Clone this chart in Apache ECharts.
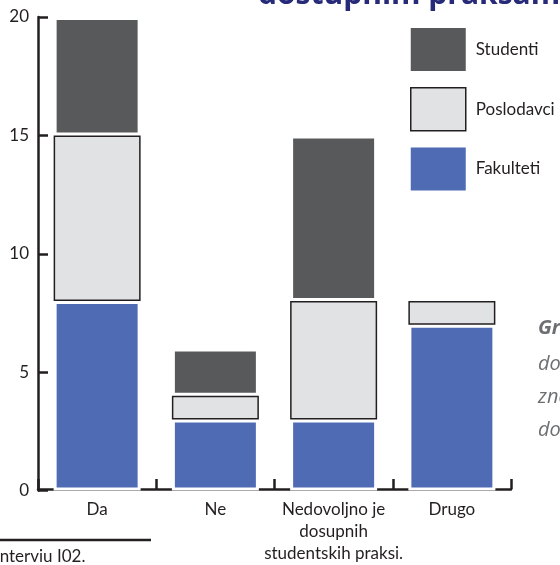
<!DOCTYPE html>
<html>
<head>
<meta charset="UTF-8">
<title>Prakse</title>
<script type="text/javascript" src="https://cdn.jsdelivr.net/npm/echarts@6/dist/echarts.min.js"></script>
<style>
html,body{margin:0;padding:0;background:#fff;}
</style>
</head>
<body>

<div id="box" style="width:560px;height:565px;"></div>

<script type="text/javascript">

// kategorije na x osi
var categories = ['Da', 'Ne', 'Nedovoljno je\ndosupnih\nstudentskih praksi.', 'Drugo'];
// vrijednosti po grupama ispitanika
var fakulteti = [8, 3, 3, 7];
var poslodavci = [7, 1, 5, 1];
var studenti = [5, 2, 7, 0];
// podjela y osi
var yTicks = [0, 5, 10, 15, 20];

var ink = '#231f20';
var font = 'Lato';

var mychart = echarts.init(document.getElementById('box'));

var option = {
  animation: false,
  textStyle: { fontFamily: font },
  //naslov (odsjecen na vrhu)
  title: {
    text: 'dostupnim praksama',
    left: 253,
    top: -25,
    textStyle: { fontSize: 30, fontWeight: 'bold', color: '#262a78', fontFamily: 'Open Sans' }
  },
  grid: { left: 38, right: 49, top: 17, bottom: 73 },
  legend: {
    orient: 'vertical',
    left: 410,
    top: 28,
    padding: 0,
    itemWidth: 55,
    itemHeight: 43,
    itemGap: 16,
    icon: 'rect',
    textStyle: { fontSize: 17, color: ink, padding: [0, 0, 0, 5] },
    data: [
      { name: 'Studenti', itemStyle: { borderWidth: 0 } },
      { name: 'Poslodavci', itemStyle: { borderColor: ink, borderWidth: 1.5 } },
      { name: 'Fakulteti', itemStyle: { borderWidth: 0 } }
    ]
  },
  xAxis: {
    type: 'category',
    data: categories,
    offset: -1.5,
    axisLine: { onZero: false, lineStyle: { color: ink, width: 2.5 } },
    axisTick: { show: true, inside: true, length: 10, interval: 0, alignWithLabel: false, lineStyle: { color: ink, width: 2.5 } },
    axisLabel: { color: ink, fontSize: 17, margin: 10, lineHeight: 22, interval: 0 }
  },
  yAxis: {
    type: 'value',
    min: yTicks[0],
    max: yTicks[yTicks.length - 1],
    interval: yTicks[1] - yTicks[0],
    splitLine: { show: false },
    axisLine: { show: true, lineStyle: { color: ink, width: 2.5 } },
    axisTick: { show: true, inside: true, length: 10, lineStyle: { color: ink, width: 2.5 } },
    axisLabel: { color: ink, fontSize: 17, margin: 9 }
  },
  series: [{
    name: 'Fakulteti',
    type: 'bar',
    stack: 'ukupno',
    barWidth: 87,
    itemStyle: { color: '#4f6bb4', borderColor: '#ffffff', borderWidth: 3 },
    data: fakulteti
  }, {
    name: 'Poslodavci',
    type: 'bar',
    stack: 'ukupno',
    barWidth: 87,
    z: 3,
    itemStyle: { color: '#e1e2e4', borderColor: ink, borderWidth: 1.5 },
    data: poslodavci
  }, {
    name: 'Studenti',
    type: 'bar',
    stack: 'ukupno',
    barWidth: 87,
    itemStyle: { color: '#58595b', borderColor: '#ffffff', borderWidth: 3 },
    data: studenti
  }],
  //okolni tekst stranice
  graphic: [
    { type: 'text', left: 538, top: 318, style: { text: 'Grafikon', font: 'italic bold 20px "Open Sans"', fill: '#6d6e71' } },
    { type: 'text', left: 538, top: 354, style: { text: 'do kojeg', font: 'italic 20px "Open Sans"', fill: '#6d6e71' } },
    { type: 'text', left: 538, top: 387, style: { text: 'znanja', font: 'italic 20px "Open Sans"', fill: '#6d6e71' } },
    { type: 'text', left: 538, top: 420, style: { text: 'dodatno', font: 'italic 20px "Open Sans"', fill: '#6d6e71' } },
    { type: 'line', shape: { x1: 0, y1: 540, x2: 151, y2: 540 }, style: { stroke: ink, lineWidth: 2.5 } },
    { type: 'text', left: -5, top: 548, style: { text: 'Interviu I02.', font: '17px Lato', fill: ink } }
  ]
};

mychart.setOption(option);
</script>
</body>
</html>
